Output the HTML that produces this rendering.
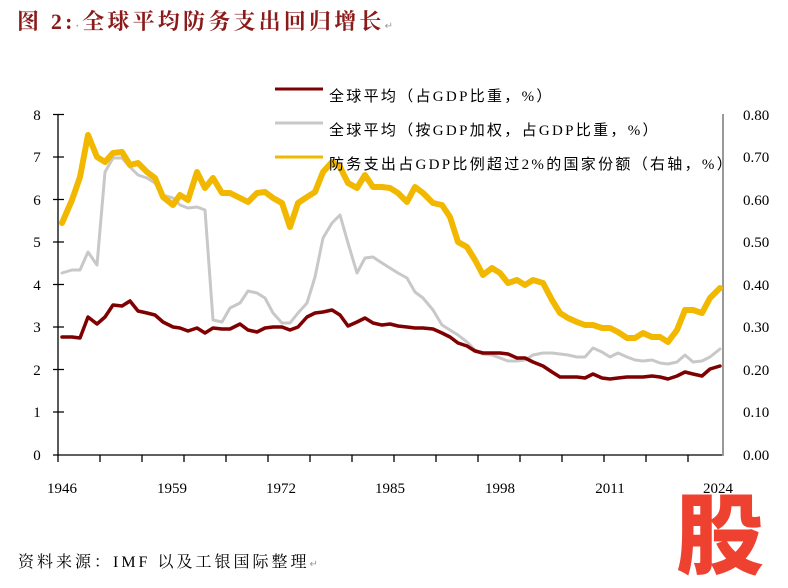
<!DOCTYPE html>
<html><head><meta charset="utf-8"><style>
body{margin:0;background:#fff;width:788px;height:588px;overflow:hidden}
svg{display:block}
</style></head><body>
<svg width="788" height="588" viewBox="0 0 788 588" xmlns="http://www.w3.org/2000/svg">
<text x="17" y="29" letter-spacing="3.2" font-family="'Liberation Serif','Noto Serif CJK SC',serif" font-size="22" font-weight="bold" fill="#8B1A1A">图 2:<tspan fill="#999" font-size="10">·</tspan>全球平均防务支出回归增长<tspan fill="#999" font-size="10" font-weight="normal">↵</tspan></text>

<g font-family="'Liberation Serif',serif" font-size="15" fill="#000">
<text x="37" y="120" text-anchor="middle">8</text>
<text x="37" y="162" text-anchor="middle">7</text>
<text x="37" y="205" text-anchor="middle">6</text>
<text x="37" y="247" text-anchor="middle">5</text>
<text x="37" y="290" text-anchor="middle">4</text>
<text x="37" y="332" text-anchor="middle">3</text>
<text x="37" y="375" text-anchor="middle">2</text>
<text x="37" y="417" text-anchor="middle">1</text>
<text x="37" y="460" text-anchor="middle">0</text>
<text x="743" y="120">0.80</text>
<text x="743" y="162">0.70</text>
<text x="743" y="205">0.60</text>
<text x="743" y="247">0.50</text>
<text x="743" y="290">0.40</text>
<text x="743" y="332">0.30</text>
<text x="743" y="375">0.20</text>
<text x="743" y="417">0.10</text>
<text x="743" y="460">0.00</text>
<g text-anchor="middle">
<text x="62" y="493">1946</text><text x="172" y="493">1959</text><text x="281" y="493">1972</text><text x="390" y="493">1985</text><text x="500" y="493">1998</text><text x="610" y="493">2011</text><text x="718" y="493">2024</text>
</g>
</g>

<g stroke="#000" stroke-width="1.3">
<line x1="58" y1="114" x2="58" y2="462"/>
<line x1="53" y1="455" x2="723" y2="455"/>
<path d="M53 114.5H64M53 157H64M53 199.5H64M53 242H64M53 284.5H64M53 327H64M53 369.5H64M53 412H64"/>
<path d="M100 455V462M142 455V462M184 455V462M226 455V462M268 455V462M310 455V462M352 455V462M394 455V462M436 455V462M478 455V462M520 455V462M562 455V462M604 455V462M646 455V462M688 455V462"/>
</g>
<line x1="723" y1="114" x2="723" y2="456" stroke="#999" stroke-width="2"/>

<g fill="none" stroke-linejoin="round" stroke-linecap="round">
<polyline stroke="#C8C8C8" stroke-width="3" points="62,273 72,270 80,270 88,252 97,265 105,172 113,158 122,158 130,167 138,175 147,178 155,183 163,195 173,198 180,205 188,208 197,207 205,210 213,320 222,322 230,308 240,303 248,291 257,293 265,298 273,313 282,323 290,323 298,313 307,303 315,277 323,238 332,223 340,215 348,243 357,273 365,258 373,257 382,263 390,268 398,273 407,278 415,292 423,298 433,310 442,325 450,330 458,335 467,342 475,350 483,354 492,355 500,358 508,361 517,361 525,360 533,355 543,353 552,353 560,354 568,355 577,357 585,357 593,348 602,352 610,357 618,353 627,357 635,360 643,361 652,360 660,363 668,364 677,362 685,355 693,362 702,361 710,357 720,349"/>
<polyline stroke="#F2B800" stroke-width="6" points="62,223 72,200 80,177 88,135 97,157 105,162 113,153 122,152 130,165 138,163 147,172 155,178 163,197 173,205 180,195 188,200 197,172 205,188 213,178 222,193 230,193 240,198 248,202 257,193 265,192 273,198 282,203 290,227 298,203 307,197 315,192 323,172 332,162 340,167 348,183 357,188 365,175 373,187 382,187 390,188 398,193 407,202 415,187 423,193 433,203 442,205 450,217 458,242 467,247 475,260 483,275 492,268 500,273 508,283 517,280 525,285 533,280 543,283 552,300 560,313 568,318 577,322 585,325 593,325 602,328 610,328 618,332 627,338 635,338 643,333 652,337 660,337 668,342 677,330 685,310 693,310 702,313 710,298 720,288"/>
<polyline stroke="#7F0000" stroke-width="3.5" points="62,337 72,337 80,338 88,317 97,324 105,317 113,305 122,306 130,301 138,311 147,313 155,315 163,322 173,327 180,328 188,331 197,328 205,333 213,328 222,329 230,329 240,324 248,330 257,332 265,328 273,327 282,327 290,330 298,327 307,317 315,313 323,312 332,310 340,315 348,326 357,322 365,318 373,323 382,325 390,324 398,326 407,327 415,328 423,328 433,329 442,333 450,337 458,343 467,346 475,351 483,353 492,353 500,353 508,354 517,358 525,358 533,362 543,366 552,372 560,377 568,377 577,377 585,378 593,374 602,378 610,379 618,378 627,377 635,377 643,377 652,376 660,377 668,379 677,376 685,372 693,374 702,376 710,369 720,366"/>
</g>

<line x1="275" y1="89" x2="323" y2="89" stroke="#7F0000" stroke-width="3"/>
<line x1="275" y1="123" x2="323" y2="123" stroke="#C8C8C8" stroke-width="3"/>
<line x1="275" y1="157" x2="323" y2="157" stroke="#F2B800" stroke-width="3"/>
<g font-family="'Liberation Serif','Noto Sans CJK SC',sans-serif" font-size="15" fill="#000" letter-spacing="2.3">
<text x="329" y="101">全球平均（占GDP比重，%）</text>
<text x="329" y="135">全球平均（按GDP加权，占GDP比重，%）</text>
<text x="329" y="169">防务支出占GDP比例超过2%的国家份额（右轴，%）</text>
</g>

<text x="18" y="567" letter-spacing="3" font-family="'Liberation Serif','Noto Serif CJK SC',serif" font-size="16" fill="#000">资料来源：IMF 以及工银国际整理<tspan fill="#999" font-size="10">↵</tspan></text>
<text x="720" y="567" text-anchor="middle" font-family="'Noto Sans CJK SC',sans-serif" font-size="88" font-weight="900" fill="#EF4130">股</text>
</svg>
</body></html>
